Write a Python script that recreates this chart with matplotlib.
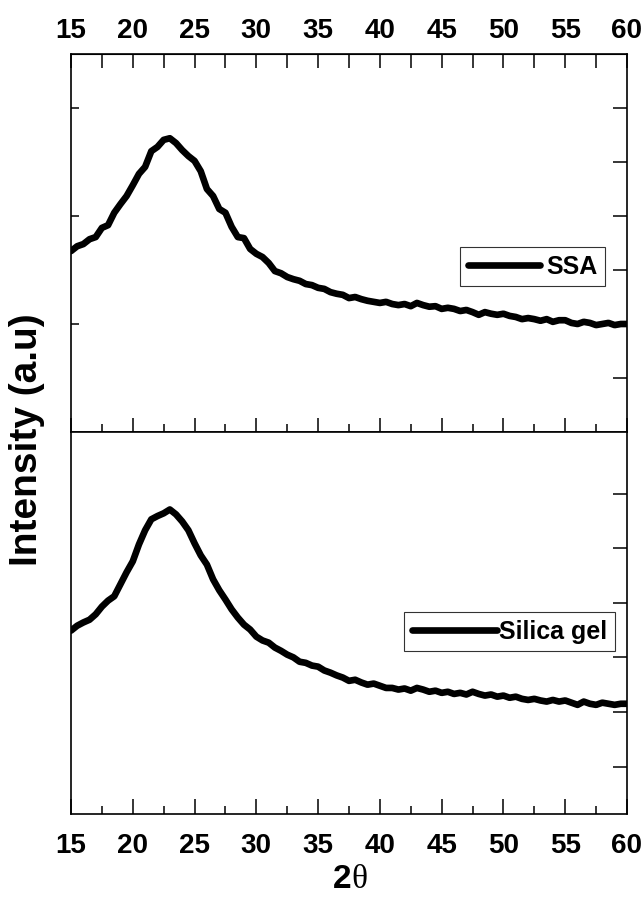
import matplotlib

matplotlib.use("Agg")

import matplotlib.pyplot as plt
import numpy as np
from matplotlib.ticker import MultipleLocator

# 2-theta grid, 0.5 degree steps from 15 to 60
TWO_THETA = np.arange(15.0, 60.01, 0.5)

SSA = [
    335, 344, 348, 357, 361, 378, 383, 406, 422, 437,
    457, 478, 491, 520, 528, 541, 544, 535, 522, 511,
    502, 483, 450, 437, 413, 406, 380, 361, 359, 339,
    330, 324, 313, 298, 294, 287, 283, 280, 274, 272,
    267, 265, 259, 256, 254, 248, 250, 246, 243, 241,
    239, 241, 237, 235, 237, 233, 239, 235, 232, 233,
    228, 230, 228, 224, 226, 222, 217, 222, 219, 217,
    219, 215, 213, 209, 211, 209, 206, 209, 204, 207,
    207, 202, 200, 204, 202, 198, 200, 202, 198, 200,
    200,
]

SILICA_GEL = [
    249, 258, 264, 269, 279, 293, 304, 312, 334, 356,
    376, 407, 433, 453, 459, 464, 471, 462, 449, 433,
    409, 387, 370, 343, 323, 306, 288, 273, 260, 251,
    238, 231, 227, 218, 212, 205, 200, 192, 190, 185,
    183, 176, 172, 167, 163, 157, 159, 154, 150, 152,
    148, 144, 144, 141, 143, 139, 144, 141, 137, 139,
    135, 137, 133, 135, 132, 137, 133, 130, 132, 128,
    130, 126, 128, 124, 122, 124, 121, 119, 122, 119,
    121, 117, 113, 119, 115, 113, 117, 115, 113, 115,
    115,
]

X_TICKS = list(range(15, 61, 5))
TOP_YLIM = (0, 700)
BOTTOM_YLIM = (-87, 613)

FONT = "Liberation Sans"
LINE_W = 4.8
TICK_FS = 20

plt.rcParams["font.family"] = [FONT, "DejaVu Sans"]
plt.rcParams["font.weight"] = "bold"

fig = plt.figure(figsize=(6.43, 9.03), dpi=100, facecolor="white")

left = 71 / 643
width = (627 - 71) / 643
y_top = 1 - 55 / 903
y_mid = 1 - 433 / 903
y_bot = 1 - 815 / 903

ax_top = fig.add_axes([left, y_mid, width, y_top - y_mid])
ax_bot = fig.add_axes([left, y_bot, width, y_mid - y_bot])

for ax in (ax_top, ax_bot):
    ax.set_xlim(15, 60)
    for sp in ax.spines.values():
        sp.set_linewidth(1.2)
    ax.xaxis.set_major_locator(MultipleLocator(5))
    ax.xaxis.set_minor_locator(MultipleLocator(2.5))

# upper panel: SSA
ax_top.plot(TWO_THETA, SSA, color="black", lw=LINE_W, solid_joinstyle="round",
            solid_capstyle="round", label="SSA")
ax_top.set_ylim(*TOP_YLIM)
ax_top.set_yticks([200, 400, 600])
ax_top.tick_params(axis="y", which="both", direction="in", length=6, width=1.1,
                   left=True, right=False, labelleft=False)
ax_top.tick_params(axis="x", which="major", direction="in", length=10, width=1.1,
                   top=False, bottom=True, labelbottom=False)
ax_top.tick_params(axis="x", which="minor", direction="in", length=6, width=1.1,
                   top=False, bottom=True)

top_sec = ax_top.secondary_xaxis("top")
top_sec.set_xticks(X_TICKS)
top_sec.xaxis.set_minor_locator(MultipleLocator(2.5))
top_sec.tick_params(which="both", direction="in", length=10, width=1.1, pad=8,
                    labelsize=TICK_FS)
for lab in top_sec.get_xticklabels():
    lab.set_fontweight("bold")

ax_top_r = ax_top.twinx()
ax_top_r.set_ylim(*TOP_YLIM)
ax_top_r.set_yticks(range(100, 601, 100))
ax_top_r.tick_params(direction="in", length=10, width=1.1, labelright=False)
for sp in ax_top_r.spines.values():
    sp.set_visible(False)

leg = ax_top.legend(loc="upper right", bbox_to_anchor=(605 / 643, 1 - 248 / 903),
                    bbox_transform=fig.transFigure, frameon=True, fancybox=False,
                    edgecolor="black", borderpad=0.3, borderaxespad=0,
                    handlelength=2.9, handletextpad=0.25,
                    prop={"family": FONT, "weight": "bold", "size": 18})
leg.get_frame().set_linewidth(0.8)
leg.get_lines()[0].set_linewidth(LINE_W)

# lower panel: silica gel
ax_bot.plot(TWO_THETA, SILICA_GEL, color="black", lw=LINE_W, solid_joinstyle="round",
            solid_capstyle="round", label="Silica gel")
ax_bot.set_ylim(*BOTTOM_YLIM)
ax_bot.set_yticks([])
ax_bot.tick_params(axis="x", which="major", direction="in", length=11, width=1.1,
                   top=False, bottom=True, pad=13, labelsize=TICK_FS)
ax_bot.tick_params(axis="x", which="minor", direction="in", length=6, width=1.1,
                   top=False, bottom=True)
ax_bot.set_xticks(X_TICKS)
for lab in ax_bot.get_xticklabels():
    lab.set_fontweight("bold")

ax_bot_r = ax_bot.twinx()
ax_bot_r.set_ylim(*BOTTOM_YLIM)
ax_bot_r.set_yticks(range(0, 501, 100))
ax_bot_r.tick_params(direction="in", length=10, width=1.1, labelright=False)
for sp in ax_bot_r.spines.values():
    sp.set_visible(False)

leg2 = ax_bot.legend(loc="upper right", bbox_to_anchor=(615 / 643, 1 - 613 / 903),
                     bbox_transform=fig.transFigure, frameon=True, fancybox=False,
                     edgecolor="black", borderpad=0.3, borderaxespad=0,
                     handlelength=3.4, handletextpad=0.1,
                     prop={"family": FONT, "weight": "bold", "size": 18})
leg2.get_frame().set_linewidth(0.8)
leg2.get_lines()[0].set_linewidth(LINE_W)

# axis titles
fig.text(27 / 643, 1 - 440 / 903, "Intensity (a.u)", rotation=90, ha="center",
         va="center", fontsize=28, fontweight="bold", family=FONT)
fig.text(351 / 643, 1 - 880 / 903, "2", ha="right", va="center", fontsize=24,
         fontweight="bold", family=FONT)
fig.text(351 / 643, 1 - 880 / 903, "\u03b8", ha="left", va="center", fontsize=24,
         fontweight="normal", family="Liberation Serif")

fig.savefig("out.png", dpi=100, facecolor="white")
